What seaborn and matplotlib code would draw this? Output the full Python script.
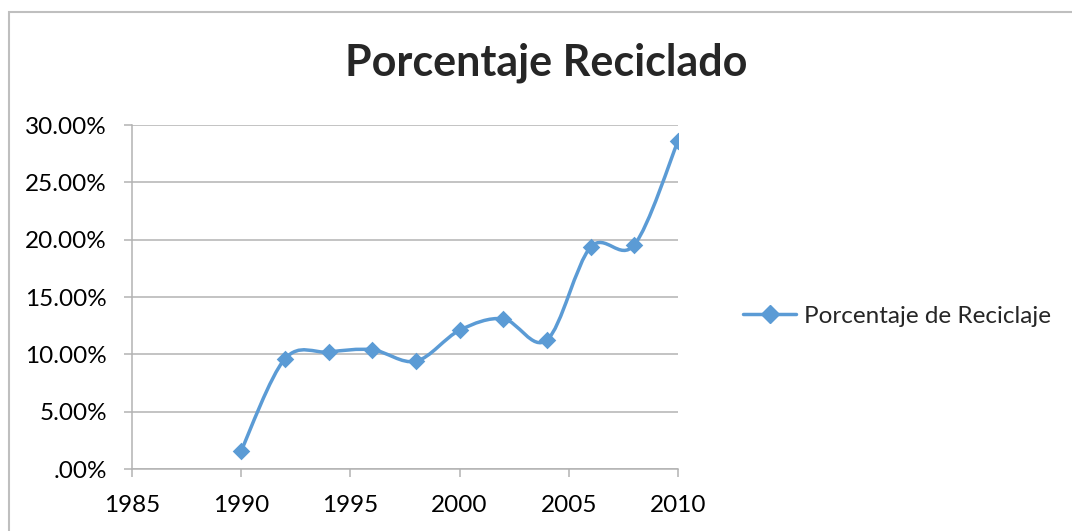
"""
Porcentaje Reciclado - curva suavizada estilo Excel con marcadores en rombo.
"""

import numpy as np
import pandas as pd
import matplotlib
matplotlib.use("Agg")
import matplotlib.pyplot as plt
from matplotlib.path import Path
from matplotlib.patches import PathPatch, Rectangle
from matplotlib.lines import Line2D
from matplotlib.ticker import FuncFormatter
import seaborn as sns

# datos
anios = [1990, 1992, 1994, 1996, 1998, 2000, 2002, 2004, 2006, 2008, 2010]
porcentaje = [1.6, 9.6, 10.2, 10.4, 9.4, 12.1, 13.1, 11.25, 19.35, 19.55, 28.6]
serie = "Porcentaje de Reciclaje"
titulo = "Porcentaje Reciclado"
x_ticks = [1985, 1990, 1995, 2000, 2005, 2010]
y_ticks = [0, 5, 10, 15, 20, 25, 30]

azul = "#5B9BD5"
gris = "#B3B3B3"

sns.set_style("white")
plt.rcParams["font.family"] = ["Lato", "DejaVu Sans"]

df = pd.DataFrame({"anio": anios, "pct": porcentaje})

fig = plt.figure(figsize=(10.72, 5.31), dpi=100)
ax = fig.add_axes([132 / 1072, 1 - 469 / 531, 546 / 1072, 344 / 531])

# borde del grafico
fig.patches.append(Rectangle((9 / 1072, -0.1), 1.2, 1 - 12 / 531 + 0.1,
                             transform=fig.transFigure, fill=False,
                             edgecolor="#BFBFBF", lw=1.5))

# linea suavizada (bezier tipo Catmull-Rom, como Excel)
pts = df[["anio", "pct"]].to_numpy(dtype=float)
verts = [pts[0]]
codes = [Path.MOVETO]
for i in range(len(pts) - 1):
    p0 = pts[max(i - 1, 0)]
    p1 = pts[i]
    p2 = pts[i + 1]
    p3 = pts[min(i + 2, len(pts) - 1)]
    c1 = p1 + (p2 - p0) / 6
    c2 = p2 - (p3 - p1) / 6
    verts += [c1, c2, p2]
    codes += [Path.CURVE4] * 3
ax.add_patch(PathPatch(Path(verts, codes), fill=False, edgecolor=azul,
                       lw=2.5, capstyle="round", joinstyle="round", zorder=3))

sns.scatterplot(data=df, x="anio", y="pct", marker="D", s=80, color=azul,
                edgecolor=azul, linewidth=0, ax=ax, zorder=4)

ax.set_xlim(1985, 2010)
ax.set_ylim(0, 30)
ax.set_xticks(x_ticks)
ax.set_yticks(y_ticks)
ax.yaxis.set_major_formatter(FuncFormatter(
    lambda v, p: ".00%" if v == 0 else f"{v:.2f}%"))
ax.grid(axis="y", color=gris, lw=1.1)
ax.set_axisbelow(True)
for s in ["top", "right"]:
    ax.spines[s].set_visible(False)
for s in ["left", "bottom"]:
    ax.spines[s].set_color(gris)
    ax.spines[s].set_linewidth(1.1)
ax.tick_params(axis="both", colors=gris, length=6, width=1.1,
               labelsize=17.5, labelcolor="black", direction="out",
               left=True, bottom=True)
ax.tick_params(axis="y", pad=12)
ax.tick_params(axis="x", pad=13)
ax.set_xlabel("")
ax.set_ylabel("")

fig.text(546 / 1072, 1 - 63 / 531, titulo, ha="center", va="center",
         fontsize=31, fontweight="bold")

handle = Line2D([], [], color=azul, lw=2.5, marker="D", markersize=9)
ax.legend([handle], [serie], loc="center left", bbox_to_anchor=(743 / 1072, 1 - 316 / 531),
          bbox_transform=fig.transFigure, frameon=False, fontsize=17.5,
          handlelength=2.2, handletextpad=0.3, borderpad=0, borderaxespad=0)

fig.savefig("out.png", dpi=100)
